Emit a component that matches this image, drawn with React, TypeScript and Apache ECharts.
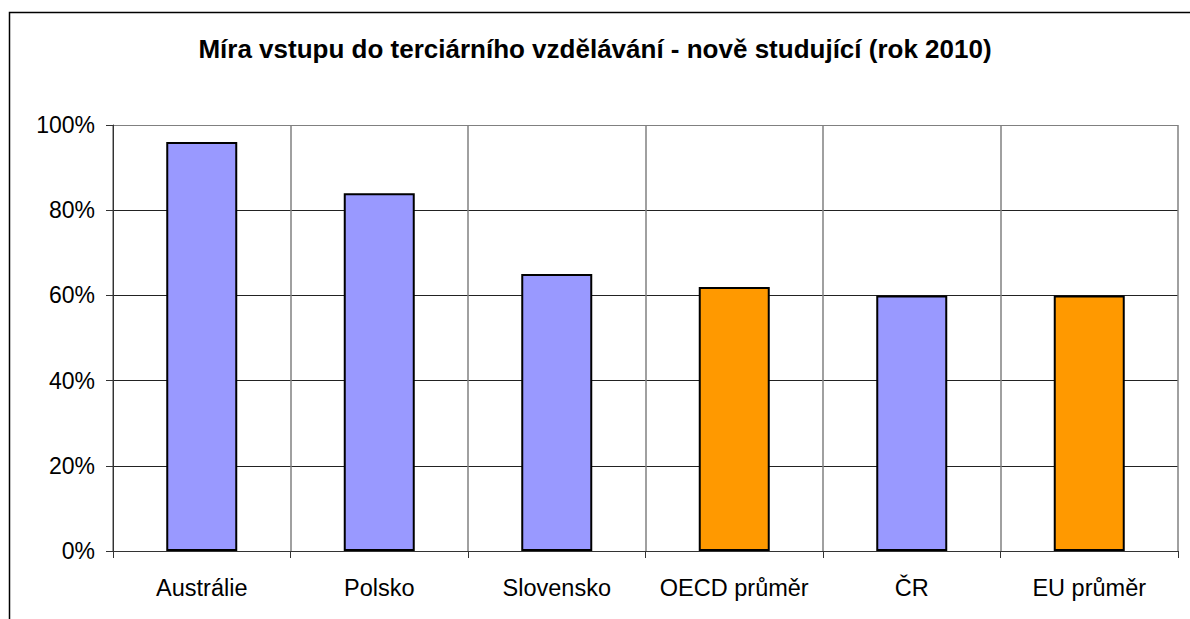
import React, { useEffect, useRef } from "react";
import * as echarts from "echarts";

const categories = ["Austrálie", "Polsko", "Slovensko", "OECD průměr", "ČR", "EU průměr"];
const values = [96, 84, 65, 62, 60, 60];
const highlighted = [false, false, false, true, false, true];
const titleText = "Míra vstupu do terciárního vzdělávání - nově studující (rok 2010)";

const BLUE = "#9999FF";
const ORANGE = "#FF9900";

export default function App() {
  const ref = useRef<HTMLDivElement>(null);
  useEffect(() => {
    document.body.style.margin = "0";
    const chart = echarts.init(ref.current!, null, { renderer: "svg" });
    chart.setOption({
      animation: false,
      backgroundColor: "#fff",
      textStyle: { fontFamily: "Liberation Sans, Arial, sans-serif" },
      title: {
        text: titleText,
        left: "center",
        top: 31,
        textStyle: { fontSize: 26, fontWeight: "bold", color: "#000", fontFamily: "Liberation Sans, Arial, sans-serif" },
      },
      graphic: [
        {
          type: "rect",
          shape: { x: 9.5, y: 12.5, width: 1300, height: 800 },
          style: { fill: "none", stroke: "#000", lineWidth: 1.5 },
          silent: true,
        },
      ],
      grid: { left: 113, top: 125, right: 12, bottom: 68, containLabel: false },
      xAxis: {
        type: "category",
        data: categories,
        boundaryGap: true,
        axisLine: { show: true, lineStyle: { color: "#333", width: 1 } },
        axisTick: { show: true, interval: 0, length: 7, lineStyle: { color: "#333" } },
        splitLine: { show: true, interval: 0, lineStyle: { color: "#808080", width: 1.5 } },
        axisLabel: { interval: 0, color: "#000", fontSize: 23.5, margin: 25, fontFamily: "Liberation Sans, Arial, sans-serif" },
      },
      yAxis: {
        type: "value",
        min: 0,
        max: 100,
        interval: 20,
        axisLine: { show: true, lineStyle: { color: "#333", width: 1 } },
        axisTick: { show: true, length: 7, lineStyle: { color: "#333" } },
        splitLine: {
          show: true,
          lineStyle: { color: ["#333", "#222", "#222", "#222", "#222", "#808080"], width: 1 },
        },
        axisLabel: {
          color: "#000",
          fontSize: 23,
          margin: 18,
          formatter: (v: number) => v + "%",
          fontFamily: "Liberation Sans, Arial, sans-serif",
        },
      },
      series: [
        {
          type: "bar",
          barWidth: "40%",
          data: values.map((v, i) => ({
            value: v,
            itemStyle: { color: highlighted[i] ? ORANGE : BLUE, borderColor: "#000", borderWidth: 2 },
          })),
        },
      ],
    });
    return () => chart.dispose();
  }, []);
  return <div ref={ref} style={{ position: "absolute", left: 0, top: 0, width: 1190, height: 619 }} />;
}
